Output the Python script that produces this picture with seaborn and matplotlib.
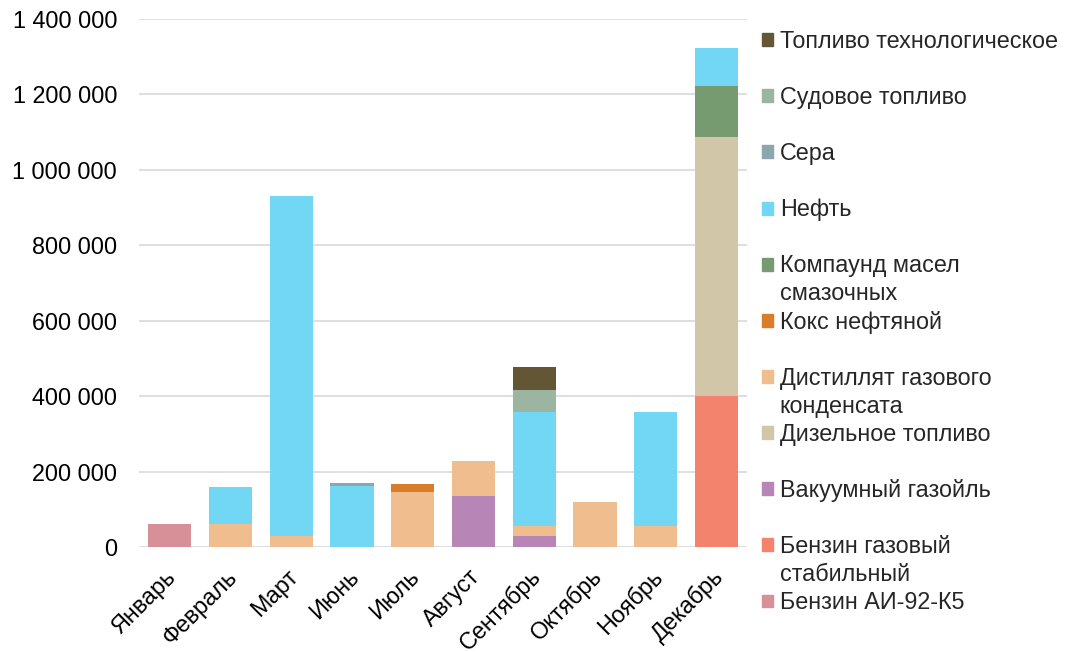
import pandas as pd
import seaborn as sns
import matplotlib.pyplot as plt
import matplotlib.transforms as mtransforms

months = ['Январь', 'Февраль', 'Март', 'Июнь', 'Июль', 'Август',
          'Сентябрь', 'Октябрь', 'Ноябрь', 'Декабрь']

# series listed top of stack -> bottom (legend order)
products = ['Топливо технологическое', 'Судовое топливо', 'Сера', 'Нефть',
            'Компаунд масел смазочных', 'Кокс нефтяной',
            'Дистиллят газового конденсата', 'Дизельное топливо',
            'Вакуумный газойль', 'Бензин газовый стабильный', 'Бензин АИ-92-К5']

toplivo_tech = [0, 0, 0, 0, 0, 0, 61000, 0, 0, 0]
sudovoe = [0, 0, 0, 0, 0, 0, 58000, 0, 0, 0]
sera = [0, 0, 0, 7000, 0, 0, 0, 0, 0, 0]
neft = [0, 100000, 903000, 163000, 0, 0, 302000, 0, 301000, 101000]
kompaund = [0, 0, 0, 0, 0, 0, 0, 0, 0, 133000]
koks = [0, 0, 0, 0, 21000, 0, 0, 0, 0, 0]
distillyat = [0, 60000, 28000, 0, 147000, 93000, 29000, 120000, 57000, 0]
dizel = [0, 0, 0, 0, 0, 0, 0, 0, 0, 688000]
vakuum = [0, 0, 0, 0, 0, 135000, 28000, 0, 0, 0]
benzin_gaz = [0, 0, 0, 0, 0, 0, 0, 0, 0, 400000]
benzin_ai92 = [60000, 0, 0, 0, 0, 0, 0, 0, 0, 0]

values = [toplivo_tech, sudovoe, sera, neft, kompaund, koks, distillyat,
          dizel, vakuum, benzin_gaz, benzin_ai92]

colors = ['#625634', '#9BB5A1', '#8CA6AE', '#72D6F5', '#779B71', '#D97D2B',
          '#F0BD8E', '#D1C6A7', '#B786B7', '#F4836E', '#D79097']

# legend text: first line, second line (wrapped like the original)
legend_first = ['Топливо технологическое', 'Судовое топливо', 'Сера', 'Нефть',
                'Компаунд масел', 'Кокс нефтяной', 'Дистиллят газового',
                'Дизельное топливо', 'Вакуумный газойль', 'Бензин газовый',
                'Бензин АИ-92-К5']
legend_second = ['', '', '', '', 'смазочных', '', 'конденсата', '', '',
                 'стабильный', '']

rows = []
for m_i, m in enumerate(months):
    for p, vals in zip(products, values):
        rows.append({'Месяц': m, 'Продукт': p, 'Объем': vals[m_i]})
df = pd.DataFrame(rows)
df['Месяц'] = pd.Categorical(df['Месяц'], categories=months, ordered=True)

sns.set_style('white')
plt.rcParams['font.family'] = ['Liberation Sans', 'DejaVu Sans']
FS = 16.8

fig = plt.figure(figsize=(10.71, 6.52), dpi=100)
ax = fig.add_axes([0.130, 0.161, 0.5675, 0.810])

sns.histplot(data=df, x='Месяц', weights='Объем', hue='Продукт',
             hue_order=products, palette=dict(zip(products, colors)),
             multiple='stack', discrete=True, shrink=0.71, alpha=1,
             linewidth=0, edgecolor='none', ax=ax)

ax.set_ylim(0, 1400000)
ax.set_xlim(-0.5, len(months) - 0.5)
yt = list(range(0, 1400001, 200000))
ax.set_yticks(yt)
ax.set_yticklabels([f'{v:,}'.replace(',', ' ') for v in yt])
ax.yaxis.grid(True, color='#D9D9D9', linewidth=1.2)
ax.set_axisbelow(True)
for s in ax.spines.values():
    s.set_visible(False)
ax.set_xlabel('')
ax.set_ylabel('')
ax.tick_params(axis='y', length=0, pad=16, labelsize=FS, colors='black')
ax.tick_params(axis='x', length=0, pad=13, labelsize=FS, colors='black')
ax.set_xticks(range(len(months)))
ax.set_xticklabels(months, rotation=45, ha='right', va='top',
                   rotation_mode='anchor')
shift = mtransforms.ScaledTranslation(-5 / 100, 0, fig.dpi_scale_trans)
for lbl in ax.get_xticklabels():
    lbl.set_transform(lbl.get_transform() + shift)

handles = [plt.Rectangle((0, 0), 1, 1, color=c) for c in colors]
ax.get_legend().remove()
leg = ax.legend(handles, legend_first, loc='upper left',
                bbox_to_anchor=(0.997, 1.01), frameon=False, fontsize=FS,
                handlelength=0.48, handleheight=0.48, handletextpad=0.3,
                labelspacing=1.42, borderaxespad=0.3)

fig.canvas.draw()
for txt, second in zip(leg.get_texts(), legend_second):
    if second:
        ax.annotate(second, xy=(0, 0), xycoords=txt, xytext=(0, -3.5),
                    textcoords='offset points', ha='left', va='top',
                    fontsize=FS, annotation_clip=False)

plt.savefig('out.png', dpi=100)
